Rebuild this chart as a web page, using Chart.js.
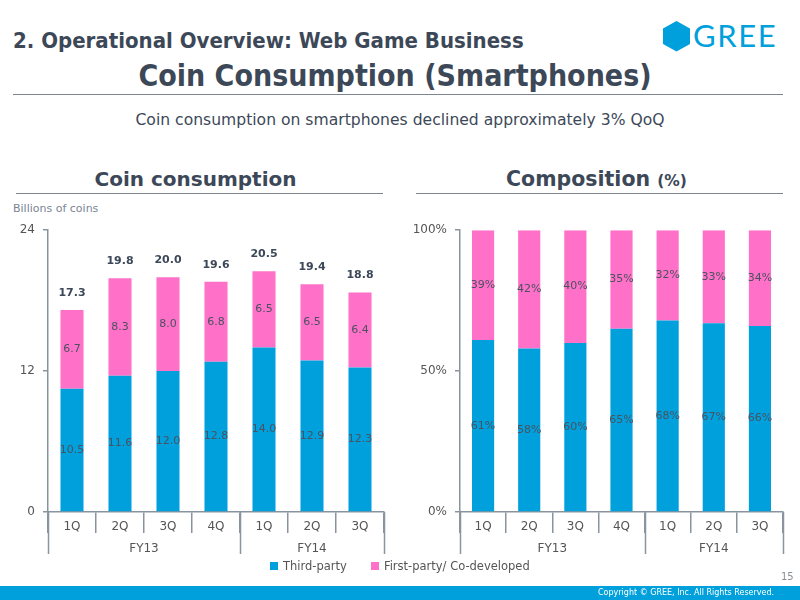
<!DOCTYPE html>
<html><head><meta charset="utf-8">
<script src="https://cdn.jsdelivr.net/npm/chart.js@4.4.1/dist/chart.umd.min.js"></script>
<style>
body{margin:0;width:800px;height:600px;position:relative;overflow:hidden;background:#fff;font-family:"DejaVu Sans",Verdana,sans-serif;color:#3c4858}
.abs{position:absolute;white-space:nowrap}
.cond{font-family:"DejaVu Sans Condensed","DejaVu Sans",sans-serif;font-stretch:condensed;font-weight:bold}
.rule{position:absolute;height:0;border-top:1.5px solid #7d8590}
.sw{display:inline-block;width:8px;height:8px;vertical-align:middle;margin-right:5px;position:relative;top:-1px}
</style></head><body>
<div class="abs cond" style="left:13px;top:28px;font-size:22px">2. Operational Overview: Web Game Business</div>
<svg class="abs" style="left:662px;top:21px" width="30" height="31" viewBox="0 0 30 31"><polygon points="14.5,0 28,7.5 28,23 14.5,30.5 1,23 1,7.5" fill="#00a0dc"/></svg>
<div class="abs" style="left:693px;top:16px;font-family:Lato,'Open Sans',sans-serif;font-size:31px;color:#00a0dc;letter-spacing:1.6px">GREE</div>
<div class="abs cond" style="left:0;width:790px;text-align:center;top:58px;font-size:30px">Coin Consumption (Smartphones)</div>
<div class="rule" style="left:13px;width:770px;top:94px"></div>
<div class="abs" style="left:0;width:800px;text-align:center;top:111px;font-size:15.6px">Coin consumption on smartphones declined approximately 3% QoQ</div>
<div class="abs" style="left:12px;width:367px;text-align:center;top:167px;font-size:20px;font-weight:bold">Coin consumption</div>
<div class="rule" style="left:16px;width:367px;top:193px"></div>
<div class="abs" style="left:413px;width:367px;text-align:center;top:167px;font-size:20.5px;font-weight:bold">Composition <span style="font-size:15.5px">(%)</span></div>
<div class="rule" style="left:416px;width:367px;top:193px"></div>
<div class="abs" style="left:13px;top:202px;font-size:11px;color:#7a8594">Billions of coins</div>
<div class="abs" style="left:0;top:215px;width:400px;height:350px"><canvas id="left"></canvas></div>
<div class="abs" style="left:400px;top:215px;width:400px;height:350px"><canvas id="right"></canvas></div>
<div class="abs" style="left:270px;top:559px;font-size:11.5px;color:#555"><span class="sw" style="background:#00a0dc"></span>Third-party<span style="display:inline-block;width:24px"></span><span class="sw" style="background:#ff70c8"></span>First-party/ Co-developed</div>
<div class="abs" style="left:781px;top:571px;font-size:10px;color:#8a8f96">15</div>
<div class="abs" style="left:0;top:586px;width:800px;height:14px;background:#00a0dc"></div>
<div class="abs" style="left:598px;top:588px;font-size:8px;color:#fff">Copyright © GREE, Inc. All Rights Reserved.</div>
<script>
// data
const quarters=['1Q','2Q','3Q','4Q','1Q','2Q','3Q'];
const years=[{label:'FY13',from:0,to:3},{label:'FY14',from:4,to:6}];
const thirdParty=[10.5,11.6,12.0,12.8,14.0,12.9,12.3];
const firstParty=[6.7,8.3,8.0,6.8,6.5,6.5,6.4];
const totals=[17.3,19.8,20.0,19.6,20.5,19.4,18.8];
const thirdPct=[61,58,60,65,68,67,66];
const firstPct=[39,42,40,35,32,33,34];

const F='"DejaVu Sans", Verdana, sans-serif';
const BLUE='#00a0dc', PINK='#ff70c8', AXIS='#8a949e', TXT='#4a5260';

const labelsPlugin={id:'vals',afterDatasetsDraw(chart,args,o){
  const ctx=chart.ctx; ctx.save(); ctx.textAlign='center'; ctx.textBaseline='middle';
  ctx.font='11px '+F; ctx.fillStyle=TXT;
  chart.data.datasets.forEach((ds,d)=>{
    chart.getDatasetMeta(d).data.forEach((el,i)=>{
      ctx.fillText(o.fmt(ds.data[i]),el.x,(el.y+el.base)/2);
    });
  });
  if(o.totals){
    const top=chart.getDatasetMeta(chart.data.datasets.length-1).data;
    ctx.font='bold 11px '+F; ctx.fillStyle='#3c4858';
    top.forEach((el,i)=>ctx.fillText(o.totals[i].toFixed(1),el.x,el.y-17));
  }
  ctx.restore();
}};

const groupPlugin={id:'groups',afterDraw(chart){
  const ctx=chart.ctx, x=chart.scales.x, y0=chart.chartArea.bottom;
  ctx.save(); ctx.strokeStyle=AXIS; ctx.lineWidth=1.5;
  const edges=[-0.5];
  years.forEach(g=>edges.push(g.to+0.5));
  edges.forEach(v=>{const px=Math.round(x.getPixelForValue(v))+0.5; ctx.beginPath(); ctx.moveTo(px,y0); ctx.lineTo(px,y0+42); ctx.stroke();});
  ctx.font='12px '+F; ctx.fillStyle='#555'; ctx.textAlign='center'; ctx.textBaseline='middle';
  years.forEach(g=>ctx.fillText(g.label,x.getPixelForValue((g.from+g.to)/2),y0+37));
  ctx.restore();
}};

function makeChart(id,a,b,max,step,fmt,tickFmt,yw,padR,padT,tot){
  return new Chart(document.getElementById(id),{
    type:'bar',
    data:{labels:quarters,datasets:[
      {label:'Third-party',data:a,backgroundColor:BLUE,categoryPercentage:1,barPercentage:0.48},
      {label:'First-party/ Co-developed',data:b,backgroundColor:PINK,categoryPercentage:1,barPercentage:0.48}]},
    options:{responsive:true,maintainAspectRatio:false,animation:false,
      layout:{padding:{top:padT,right:padR,left:0,bottom:0}},
      plugins:{legend:{display:false},tooltip:{enabled:false},vals:{fmt,totals:tot}},
      scales:{
        x:{stacked:true,offset:true,
          ticks:{color:'#555',font:{size:12,family:F},padding:-13,maxRotation:0,autoSkip:false},
          grid:{drawOnChartArea:false,drawTicks:true,tickLength:21,color:AXIS,offset:true,lineWidth:1.5},
          border:{display:true,color:AXIS,width:1.5},
          afterFit:s=>{s.height=53}},
        y:{stacked:true,min:0,max:max,
          ticks:{stepSize:step,color:'#555',font:{size:12,family:F},padding:8,callback:tickFmt},
          grid:{drawOnChartArea:false,drawTicks:true,tickLength:5,color:AXIS,lineWidth:1.5},
          border:{display:true,color:AXIS,width:1.5},
          afterFit:s=>{s.width=yw}}
      }},
    plugins:[labelsPlugin,groupPlugin]
  });
}
makeChart('left',thirdParty,firstParty,24,12,v=>v.toFixed(1),v=>v,48,16,12,totals);
makeChart('right',thirdPct,firstPct,100,50,v=>v+'%',v=>v+'%',60,17,14,null);
</script>
</body></html>
